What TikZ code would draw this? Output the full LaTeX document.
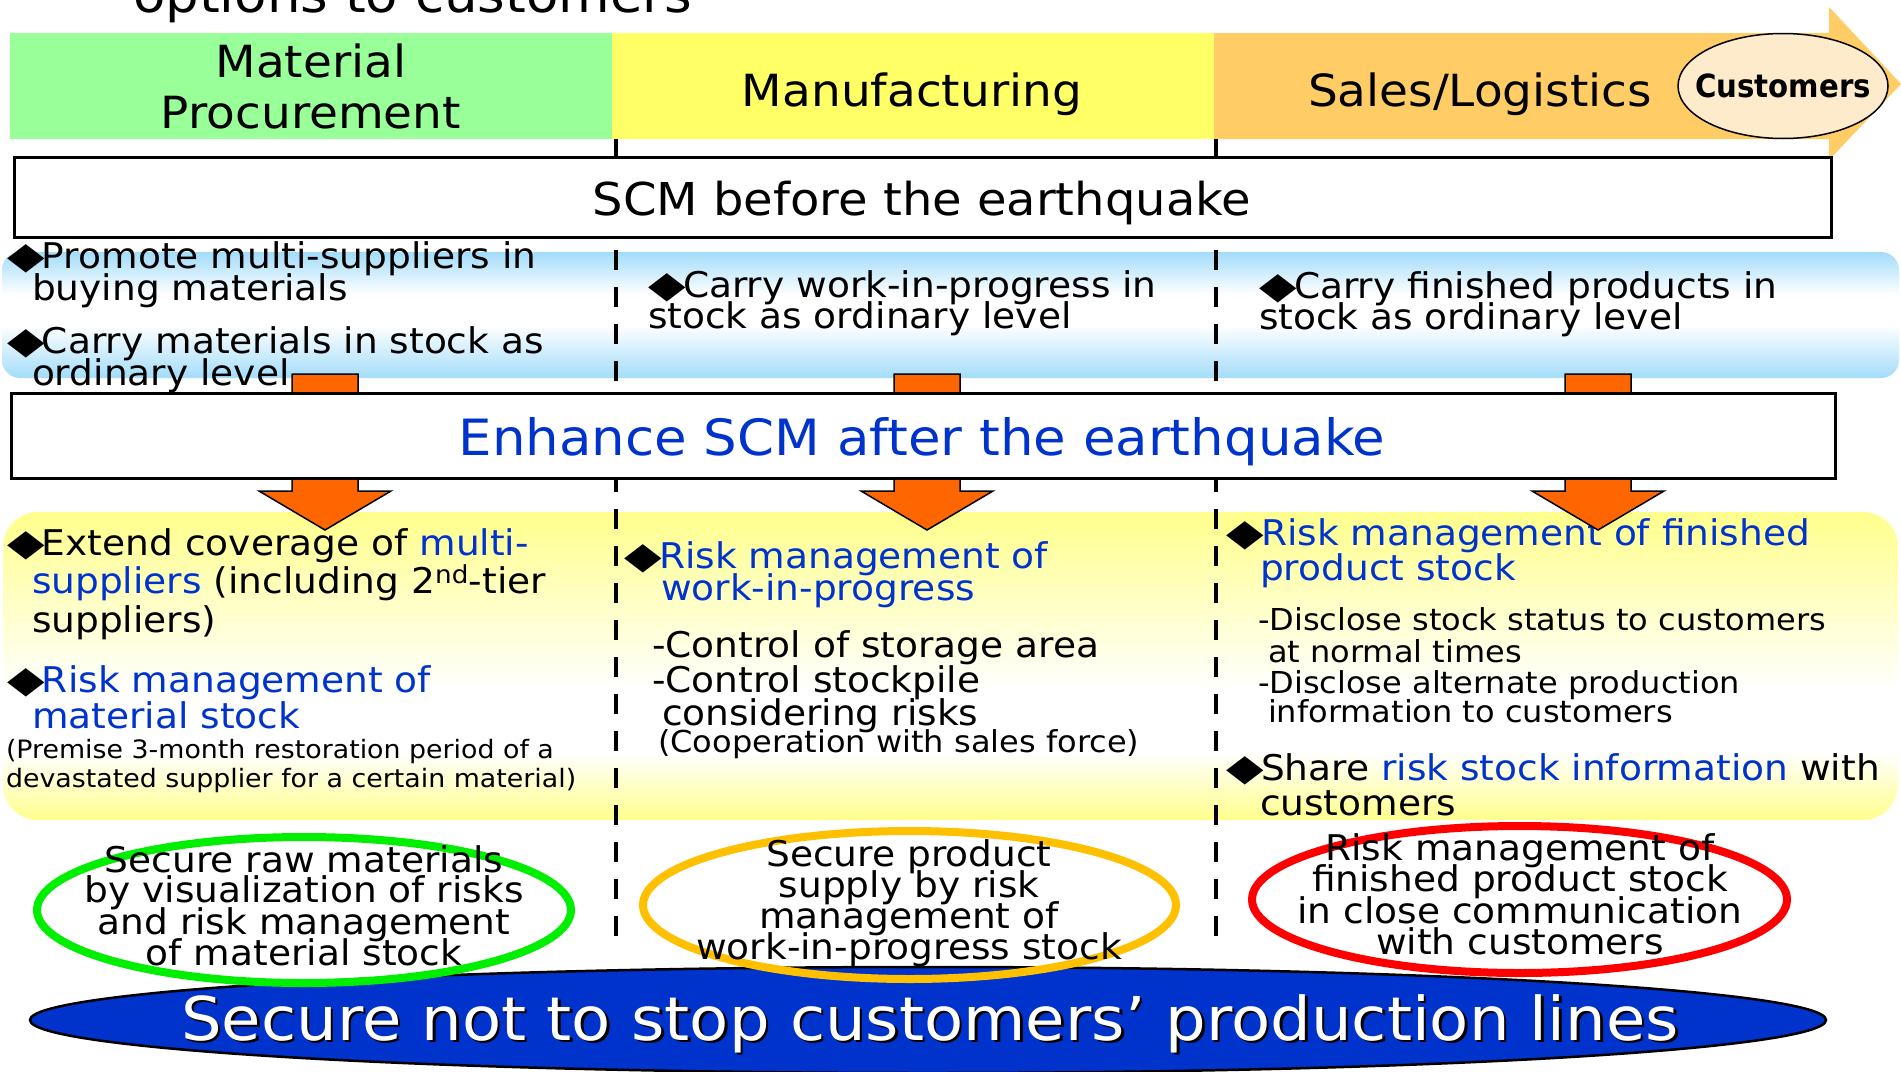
\documentclass[tikz,border=0pt]{standalone}
\usepackage{fontspec}
\usepackage{graphicx}
\setmainfont{DejaVu Sans}[FakeStretch=1.06]
\usetikzlibrary{shapes.geometric}
\definecolor{hgreen}{HTML}{99FF99}
\definecolor{hyellow}{HTML}{FFFF66}
\definecolor{horange}{HTML}{FFCC66}
\definecolor{custfill}{HTML}{FDEBCB}
\definecolor{bandblue}{HTML}{A3DCFA}
\definecolor{bandyellow}{HTML}{FFFF8C}
\definecolor{arrowor}{HTML}{FF6600}
\definecolor{txtblue}{HTML}{0033CC}
\definecolor{ringgreen}{HTML}{00EE00}
\definecolor{ringgold}{HTML}{FFC000}
\definecolor{ringred}{HTML}{FF0000}
\definecolor{goalblue}{HTML}{0033CC}
\pgfdeclareverticalshading{blueband}{100bp}{color(0bp)=(bandblue); color(25bp)=(bandblue); color(46bp)=(white); color(58bp)=(white); color(75bp)=(bandblue); color(100bp)=(bandblue)}
\pgfdeclareverticalshading{yellowband}{100bp}{color(0bp)=(bandyellow); color(25bp)=(bandyellow); color(36bp)=(white); color(46bp)=(white); color(75bp)=(bandyellow); color(100bp)=(bandyellow)}
\newcommand\dia{\makebox[35pt][l]{\scalebox{1.3}[1.05]{◆}}}
\newcommand\blu[1]{\textcolor{txtblue}{#1}}
\tikzset{
  lbl/.style={inner sep=0pt, outer sep=0pt, anchor=base west},
  clbl/.style={inner sep=0pt, outer sep=0pt, anchor=base},
  body/.style={font=\fontsize{35.4}{35}\selectfont},
  small/.style={font=\fontsize{25.3}{26}\selectfont},
  medium/.style={font=\fontsize{30.2}{31}\selectfont},
  header/.style={font=\fontsize{44.3}{45}\selectfont},
  hdrbox/.style={inner sep=0pt, outer sep=0pt, anchor=north west},
  boxst/.style={draw=black, line width=2.5pt, fill=white, inner sep=0pt, anchor=north west},
  dashline/.style={draw=black, line width=4pt, dash pattern=on 20pt off 17pt},
  blockarrow/.style={draw=black, line width=1.5pt, fill=arrowor, line join=miter},
  ring/.style={ellipse, line width=8pt, inner sep=0pt},
}
\begin{document}
\begin{tikzpicture}[x=1pt,y=-1pt]
\useasboundingbox (0,0) rectangle (1901,1071);
\clip (0,0) rectangle (1901,1071);
\fill[white] (0,0) rectangle (1901,1071);

% header band
\fill[horange] (1214,33) -- (1829,33) -- (1829,7) -- (1901,84) -- (1829,160) -- (1829,139) -- (1214,139) -- cycle;
\node[hdrbox, fill=hgreen, minimum width=602pt, minimum height=106pt] (hdrA) at (10,33) {};
\node[hdrbox, fill=hyellow, minimum width=602pt, minimum height=106pt] (hdrB) at (612,33) {};
\node[clbl, header] (hmat) at (311,77) {Material};
\node[clbl, header] (hproc) at (311,128) {Procurement};
\node[clbl, header] (hmanu) at (912,106) {Manufacturing};
\node[clbl, header] (hsales) at (1480,106) {Sales/Logistics};
\node[ellipse, draw=black, line width=1.5pt, fill=custfill, minimum width=210pt, minimum height=105pt, inner sep=0pt] (cust) at (1783,86) {};
\node[clbl, font=\fontsize{29}{30}\selectfont\bfseries] (custtxt) at (1783,97) {\scalebox{0.95}[1.1]{Customers}};
\node[lbl, font=\fontsize{50}{50}\selectfont] (opts) at (133,12) {options to customers};

% bands
\shade[shading=blueband, rounded corners=18pt] (2,252) rectangle (1899,378);
\shade[shading=yellowband, rounded corners=35pt] (3,512) rectangle (1898,820);

% blue band texts
\node[lbl, body] (b1) at (7,268) {\dia Promote multi-suppliers in};
\node[lbl, body] (b2) at (32,300) {buying materials};
\node[lbl, body] (b3) at (7,353) {\dia Carry materials in stock as};
\node[lbl, body] (b4) at (32,385) {ordinary level};
\node[lbl, body] (b5) at (648,297) {\dia Carry work-in-progress in};
\node[lbl, body] (b6) at (648,328) {stock as ordinary level};
\node[lbl, body] (b7) at (1259,298) {\dia Carry finished products in};
\node[lbl, body] (b8) at (1259,329) {stock as ordinary level};

% yellow band texts
\node[lbl, body] (y1) at (7,555) {\dia Extend coverage of \blu{multi-}};
\node[lbl, body] (y2) at (32,593) {\blu{suppliers} (including 2\textsuperscript{nd}-tier};
\node[lbl, body] (y3) at (32,632) {suppliers)};
\node[lbl, body] (y4) at (7,692) {\dia\blu{Risk management of}};
\node[lbl, body] (y5) at (32,728) {\blu{material stock}};
\node[lbl, small] (y6) at (6,758) {(Premise 3-month restoration period of a};
\node[lbl, small] (y7) at (6,787) {devastated supplier for a certain material)};
\node[lbl, body] (m1) at (624,568) {\dia\blu{Risk management of}};
\node[lbl, body] (m2) at (661,600) {\blu{work-in-progress}};
\node[lbl, body] (m3) at (652,657) {-Control of storage area};
\node[lbl, body] (m4) at (652,692) {-Control stockpile};
\node[lbl, body] (m5) at (662,725) {considering risks};
\node[lbl, medium] (m6) at (658,752) {(Cooperation with sales force)};
\node[lbl, body] (r1) at (1226,545) {\dia\blu{Risk management of finished}};
\node[lbl, body] (r2) at (1260,580) {\blu{product stock}};
\node[lbl, medium] (r3) at (1258,630) {-Disclose stock status to customers};
\node[lbl, medium] (r4) at (1268,662) {at normal times};
\node[lbl, medium] (r5) at (1258,693) {-Disclose alternate production};
\node[lbl, medium] (r6) at (1268,722) {information to customers};
\node[lbl, body] (r7) at (1226,780) {\dia Share \blu{risk stock information} with};
\node[lbl, body] (r8) at (1260,815) {customers};

% column separators
\draw[dashline] (616,139) -- (616,938);
\draw[dashline] (1216,139) -- (1216,938);

% block arrows
\foreach \cx in {325,927,1598}{
  \draw[blockarrow, shift={(\cx,0)}] (-33,374) -- (33,374) -- (33,491) -- (66,491) -- (0,530) -- (-66,491) -- (-33,491) -- cycle;
}

% SCM boxes
\node[boxst, minimum width=1817pt, minimum height=80pt] (scmbefore) at (13,156) {};
\node[clbl, font=\fontsize{45.3}{46}\selectfont] (scmbeforetxt) at (922,215) {SCM before the earthquake};
\node[boxst, minimum width=1824pt, minimum height=85pt] (scmafter) at (10,392) {};
\node[clbl, font=\fontsize{50}{50}\selectfont, text=txtblue] (scmaftertxt) at (922,455) {Enhance SCM after the earthquake};

% goal
\node[ellipse, draw=black, line width=2.5pt, fill=goalblue, minimum width=1796pt, minimum height=106pt, inner sep=0pt] (goal) at (928,1020) {};
\node[clbl, font=\fontsize{60.4}{61}\selectfont, text=black] (goalshadow) at (932.5,1042.5) {Secure not to stop customers’ production lines};
\node[clbl, font=\fontsize{60.4}{61}\selectfont, text=white] (goaltxt) at (930,1040) {Secure not to stop customers’ production lines};

% outcome rings
\node[ring, draw=ringgreen, minimum width=534pt, minimum height=146pt] (ringA) at (304,910) {};
\node[ring, draw=ringgold, minimum width=533pt, minimum height=148pt] (ringB) at (909.5,905) {};
\node[ring, draw=ringred, minimum width=535pt, minimum height=147pt] (ringC) at (1519.5,899.5) {};
\node[clbl, body] (g1) at (304,872) {Secure raw materials};
\node[clbl, body] (g2) at (304,902) {by visualization of risks};
\node[clbl, body] (g3) at (304,934) {and risk management};
\node[clbl, body] (g4) at (304,965) {of material stock};
\node[clbl, body] (o1) at (909,866) {Secure product};
\node[clbl, body] (o2) at (909,897) {supply by risk};
\node[clbl, body] (o3) at (909,928) {management of};
\node[clbl, body] (o4) at (909,959) {work-in-progress stock};
\node[clbl, body] (q1) at (1520,860) {Risk management of};
\node[clbl, body] (q2) at (1520,891) {finished product stock};
\node[clbl, body] (q3) at (1520,923) {in close communication};
\node[clbl, body] (q4) at (1520,954) {with customers};
\end{tikzpicture}
\end{document}
